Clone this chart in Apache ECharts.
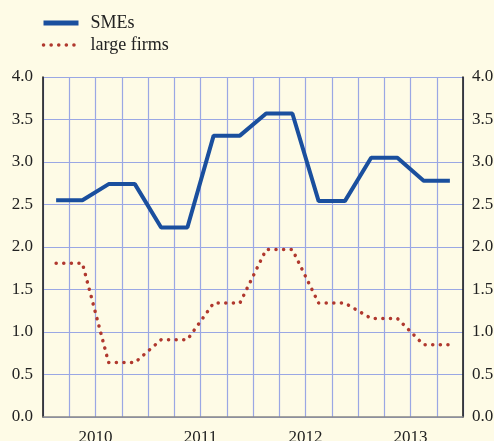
<!DOCTYPE html>
<html>
<head>
<meta charset="utf-8">
<script src="https://cdn.jsdelivr.net/npm/echarts@6/dist/echarts.min.js"></script>
<style>
  html, body { margin: 0; padding: 0; background: #fefbe6; }
  #chart { width: 494px; height: 441px; }
</style>
</head>
<body>
<div id="chart"></div>
<script>
// quarterly values, 2010 Q1 .. 2013 Q4
const quarters = ['Q1 2010', 'Q2 2010', 'Q3 2010', 'Q4 2010',
  'Q1 2011', 'Q2 2011', 'Q3 2011', 'Q4 2011',
  'Q1 2012', 'Q2 2012', 'Q3 2012', 'Q4 2012',
  'Q1 2013', 'Q2 2013', 'Q3 2013', 'Q4 2013']
const years = ['2010', '2011', '2012', '2013']
const smes = [2.55, 2.55, 2.74, 2.74, 2.23, 2.23, 3.31, 3.31,
  3.57, 3.57, 2.54, 2.54, 3.05, 3.05, 2.78, 2.78]
const largeFirms = [1.81, 1.81, 0.64, 0.64, 0.91, 0.91, 1.34, 1.34,
  1.97, 1.97, 1.34, 1.34, 1.16, 1.16, 0.85, 0.85]

const font = 'Liberation Serif'
const gridColor = '#9aa7e4'
const blue = '#1a4f9e'
const red = '#b0382e'

var myChart = echarts.init(document.getElementById('chart'))
const option = {
  backgroundColor: '#fefbe6',
  textStyle: { fontFamily: font },
  legend: {
    orient: 'vertical',
    left: 36,
    top: 9,
    itemWidth: 35,
    itemHeight: 14,
    itemGap: 4,
    itemStyle: { opacity: 0 },
    textStyle: { fontFamily: font, fontSize: 18, color: '#222', padding: [0, 0, 0, 7] },
    data: [
      { name: 'SMEs', lineStyle: { width: 5, color: blue } },
      { name: 'large firms', lineStyle: { width: 3.5, color: red, type: [0.1, 7.5], cap: 'round' } }
    ]
  },
  grid: { left: 43, right: 31, top: 77, bottom: 24, outerBoundsMode: 'none' },
  xAxis: [
    {
      type: 'category',
      data: quarters,
      boundaryGap: true,
      axisLine: { lineStyle: { color: '#888', width: 1.5 } },
      axisTick: { interval: 0, length: 6, lineStyle: { color: '#111', width: 1.5 } },
      axisLabel: { show: false, interval: 0 },
      splitLine: { show: true, interval: 0, lineStyle: { color: gridColor, width: 1.2 } }
    },
    {
      type: 'category',
      data: years,
      position: 'bottom',
      boundaryGap: true,
      axisLine: { show: false },
      axisTick: { interval: 0, length: 10, lineStyle: { color: '#111', width: 1.5 } },
      axisLabel: { interval: 0, fontFamily: font, fontSize: 17, color: '#222', margin: 12 },
      splitLine: { show: false }
    }
  ],
  yAxis: [
    {
      type: 'value',
      min: 0, max: 4, interval: 0.5,
      position: 'left',
      axisLine: { show: true, lineStyle: { color: '#111', width: 1.5 } },
      axisTick: { show: false },
      axisLabel: { fontFamily: font, fontSize: 17, color: '#222', margin: 10,
        formatter: v => v.toFixed(1) },
      splitLine: { show: true, lineStyle: { color: gridColor, width: 1.2 } }
    },
    {
      type: 'value',
      min: 0, max: 4, interval: 0.5,
      position: 'right',
      axisLine: { show: true, lineStyle: { color: '#111', width: 1.5 } },
      axisTick: { show: false },
      axisLabel: { fontFamily: font, fontSize: 17, color: '#222', margin: 9,
        formatter: v => v.toFixed(1) },
      splitLine: { show: false }
    }
  ],
  series: [
    {
      name: 'SMEs',
      type: 'line',
      data: smes,
      symbol: 'none',
      itemStyle: { color: blue },
      lineStyle: { color: blue, width: 4 }
    },
    {
      name: 'large firms',
      type: 'line',
      data: largeFirms,
      symbol: 'none',
      itemStyle: { color: red },
      lineStyle: { color: red, width: 3.5, type: [0.1, 7.5], cap: 'round' }
    }
  ]
}
option && myChart.setOption(option)
</script>
</body>
</html>
